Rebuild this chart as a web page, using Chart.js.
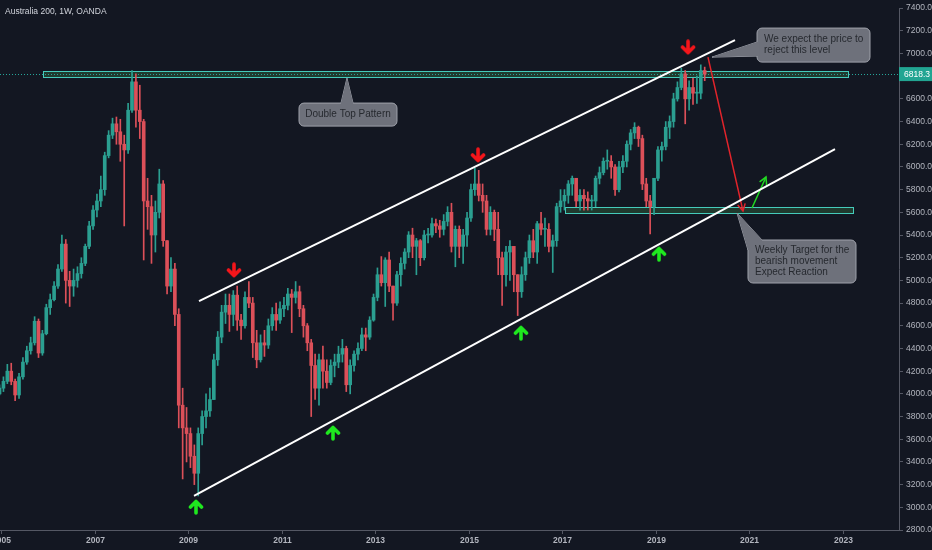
<!DOCTYPE html>
<html>
<head>
<meta charset="utf-8">
<script src="https://cdn.jsdelivr.net/npm/chart.js@4.4.1/dist/chart.umd.min.js"></script>
<style>
  html, body { margin: 0; padding: 0; background: #131722; }
  #wrap { width: 932px; height: 550px; }
</style>
</head>
<body>
<div id="wrap"><canvas id="chart" width="932" height="550"></canvas></div>
<script>
// Monthly candles, Dec 2004 .. Jan 2020 (open = previous close)
const firstMonth = { year: 2004, month: 12 };
const firstOpen = 4000;

const closes = [
    4050,
    4110, 4200, 4110, 3990, 4150, 4280, 4380, 4450, 4640, 4360, 4530, 4760, // 2005
    4830, 4950, 5100, 5320, 5000, 4950, 5000, 5060, 5150, 5300, 5480, 5620, // 2006
    5700, 5800, 6100, 6280, 6380, 6310, 6200, 6150, 6500, 6750, 6500, 6400, // 2007
    5700, 5650, 5400, 5600, 5850, 5350, 4950, 5100, 4700, 3900, 3700, 3650, // 2008
    3450, 3300, 3650, 3800, 3850, 3950, 4300, 4500, 4720, 4780, 4700, 4870, // 2009
    4650, 4600, 4850, 4800, 4450, 4300, 4450, 4430, 4600, 4700, 4650, 4750, // 2010
    4780, 4880, 4850, 4900, 4750, 4600, 4450, 4250, 4050, 4300, 4200, 4100, // 2011
    4250, 4280, 4350, 4400, 4080, 4250, 4350, 4400, 4520, 4500, 4650, 4850, // 2012
    5050, 4980, 5180, 4950, 4800, 5050, 5150, 5250, 5400, 5300, 5350, 5200, // 2013
    5400, 5400, 5500, 5480, 5450, 5520, 5600, 5300, 5450, 5300, 5400, 5550, // 2014
    5800, 5850, 5750, 5700, 5450, 5600, 5450, 5200, 5050, 5250, 5300, 5050, // 2015
    4900, 5050, 5200, 5350, 5250, 5500, 5450, 5450, 5300, 5350, 5650, 5700, // 2016
    5750, 5850, 5900, 5700, 5750, 5720, 5700, 5700, 5900, 5950, 6050, 6050, // 2017
    6000, 5800, 6000, 6050, 6200, 6300, 6350, 6250, 5850, 5700, 5650, 5900, // 2018
    6150, 6180, 6350, 6400, 6600, 6700, 6820, 6600, 6700, 6650, 6650, 6850, // 2019
    6818.3
];

const highs = [
    4080,
    4150, 4260, 4270, 4130, 4180, 4320, 4420, 4500, 4680, 4660, 4560, 4790,
    4880, 4990, 5140, 5400, 5360, 5080, 5100, 5120, 5200, 5320, 5520, 5660,
    5760, 5920, 6130, 6320, 6430, 6440, 6420, 6280, 6560, 6850, 6820, 6720,
    6420, 5900, 5750, 5700, 5980, 5880, 5350, 5200, 5150, 4750, 4050, 3880,
    3700, 3550, 3700, 3850, 4000, 4050, 4350, 4550, 4780, 4880, 4880, 4910,
    4950, 4700, 4900, 4990, 4850, 4560, 4520, 4560, 4660, 4760, 4800, 4810,
    4850, 4930, 4920, 4990, 4950, 4780, 4620, 4480, 4350, 4350, 4420, 4300,
    4300, 4350, 4420, 4480, 4420, 4300, 4380, 4450, 4580, 4580, 4680, 4880,
    5110, 5210, 5200, 5250, 4950, 5080, 5200, 5280, 5430, 5460, 5370, 5360,
    5440, 5460, 5550, 5540, 5530, 5580, 5650, 5680, 5480, 5480, 5450, 5600,
    5850, 5990, 5970, 5850, 5750, 5650, 5620, 5600, 5250, 5300, 5350, 5300,
    5050, 5120, 5250, 5400, 5450, 5520, 5600, 5550, 5500, 5400, 5680, 5800,
    5800, 5880, 5920, 5900, 5800, 5800, 5780, 5750, 5920, 6000, 6080, 6150,
    6100, 6020, 6050, 6100, 6230, 6330, 6390, 6360, 6280, 5900, 5750, 5900,
    6180, 6220, 6400, 6450, 6650, 6750, 6870, 6850, 6760, 6780, 6800, 6900,
    6880
];

const lows = [
    3990,
    4020, 4090, 4080, 3940, 3960, 4130, 4260, 4350, 4430, 4320, 4340, 4520,
    4700, 4820, 4930, 5080, 4800, 4770, 4860, 4940, 5020, 5130, 5280, 5450,
    5560, 5650, 5750, 6080, 6250, 6200, 6050, 5480, 6120, 6480, 6350, 6250,
    5180, 5450, 5150, 5250, 5550, 5300, 4880, 4900, 4600, 3700, 3250, 3400,
    3350, 3200, 3100, 3550, 3700, 3800, 3950, 4250, 4450, 4620, 4550, 4600,
    4560, 4480, 4580, 4760, 4320, 4230, 4280, 4330, 4400, 4560, 4560, 4620,
    4680, 4740, 4540, 4800, 4680, 4500, 4380, 3800, 3950, 3900, 4050, 4050,
    4080, 4150, 4230, 4280, 4020, 4000, 4200, 4300, 4380, 4380, 4480, 4640,
    4820, 4950, 4770, 4900, 4650, 4780, 4950, 5100, 5200, 5200, 5050, 5130,
    5180, 5330, 5380, 5420, 5380, 5400, 5480, 5250, 5120, 5200, 5150, 5300,
    5520, 5750, 5700, 5600, 5400, 5400, 5350, 5050, 4780, 4950, 5000, 4900,
    4690, 4850, 5000, 5150, 5200, 5150, 5400, 5300, 5250, 5070, 5300, 5600,
    5620, 5680, 5750, 5650, 5620, 5620, 5620, 5620, 5650, 5850, 5930, 5980,
    5900, 5750, 5780, 5950, 6000, 6150, 6250, 6180, 5800, 5650, 5410, 5580,
    5880, 6050, 6150, 6250, 6350, 6580, 6680, 6380, 6500, 6550, 6560, 6600,
    6760
];

const yearTicks = [2005, 2007, 2009, 2011, 2013, 2015, 2017, 2019, 2021, 2023];
const priceTicks = [2800, 3000, 3200, 3400, 3600, 3800, 4000, 4200, 4400, 4600, 4800,
    5000, 5200, 5400, 5600, 5800, 6000, 6200, 6400, 6600, 7000, 7200, 7400];
const lastPrice = 6818.3;

// drawings (decimal year, price)
const upperChannel = [[2009.225, 4818], [2020.690, 7118]];
const lowerChannel = [[2009.118, 3100], [2022.829, 6158]];
const bearishPath = [[2020.112, 6968], [2020.861, 5611]];
const reactionPath = [[2021.053, 5638], [2021.353, 5911]];
const sellSignals = [[2009.973, 5091], [2015.193, 6105], [2019.685, 7056]];
const buySignals = [[2009.160, 3003], [2012.091, 3655], [2016.112, 4536], [2019.064, 5232]];
const doubleTopZone = { from: 2005.888, to: 2023.107, top: 6845, bottom: 6792 };
const targetZone = { from: 2017.053, to: 2023.214, top: 5646, bottom: 5594 };

const callouts = [
    { lines: ['Double Top Pattern'], box: [2011.364, 2013.460, 6563, 6360], tip: [2012.390, 6783],
      align: 'center', base: 'top', baseFrom: 42, baseTo: 54 },
    { lines: ['We expect the price to', 'reject this level'], box: [2021.161, 2023.578, 7224, 6924],
      tip: [2020.198, 6968], align: 'left', base: 'left', baseFrom: 14, baseTo: 28 },
    { lines: ['Weekly Target for the', 'bearish movement', 'Expect Reaction'],
      box: [2020.968, 2023.278, 5356, 4977], tip: [2020.733, 5594], align: 'left', base: 'corner' }
];

const months = closes.map((c, i) => firstMonth.year + (firstMonth.month - 1 + i + 0.5) / 12);
const opens = closes.map((c, i) => i === 0 ? firstOpen : closes[i - 1]);

const upColor = '#2b9f91';
const downColor = '#dc5059';
const candleColors = closes.map((c, i) => c >= opens[i] ? upColor : downColor);

function arrowIcon(color, down) {
    const c = document.createElement('canvas');
    c.width = 16; c.height = 16;
    const g = c.getContext('2d');
    g.strokeStyle = color;
    g.lineWidth = 3.6;
    g.lineCap = 'round';
    g.lineJoin = 'round';
    g.beginPath();
    if (down) {
        g.moveTo(8, 2); g.lineTo(8, 13.5);
        g.moveTo(2.5, 8); g.lineTo(8, 13.5); g.lineTo(13.5, 8);
    } else {
        g.moveTo(8, 14); g.lineTo(8, 2.5);
        g.moveTo(2.5, 8); g.lineTo(8, 2.5); g.lineTo(13.5, 8);
    }
    g.stroke();
    return c;
}

const toPoints = arr => arr.map(p => ({ x: p[0], y: p[1] }));

function roundRect(ctx, x, y, w, h, r) {
    ctx.beginPath();
    ctx.moveTo(x + r, y);
    ctx.lineTo(x + w - r, y);
    ctx.arcTo(x + w, y, x + w, y + r, r);
    ctx.lineTo(x + w, y + h - r);
    ctx.arcTo(x + w, y + h, x + w - r, y + h, r);
    ctx.lineTo(x + r, y + h);
    ctx.arcTo(x, y + h, x, y + h - r, r);
    ctx.lineTo(x, y + r);
    ctx.arcTo(x, y, x + r, y, r);
    ctx.closePath();
}

function arrowHead(ctx, from, to, color) {
    const ang = Math.atan2(to.y - from.y, to.x - from.x);
    const len = 8;
    ctx.strokeStyle = color;
    ctx.lineWidth = 1.5;
    ctx.beginPath();
    ctx.moveTo(to.x - len * Math.cos(ang - 0.5), to.y - len * Math.sin(ang - 0.5));
    ctx.lineTo(to.x, to.y);
    ctx.lineTo(to.x - len * Math.cos(ang + 0.5), to.y - len * Math.sin(ang + 0.5));
    ctx.stroke();
}

const axisColor = '#555864';
const labelFont = '"Liberation Sans", Arial, sans-serif';

const overlay = {
    id: 'overlay',
    beforeDatasetsDraw(chart) {
        const { ctx, chartArea: a, scales: { x, y } } = chart;
        ctx.save();
        ctx.beginPath();
        ctx.rect(a.left, a.top, a.width, a.height);
        ctx.clip();
        [doubleTopZone, targetZone].forEach(z => {
            const x0 = x.getPixelForValue(z.from), x1 = x.getPixelForValue(z.to);
            const y0 = y.getPixelForValue(z.top), y1 = y.getPixelForValue(z.bottom);
            ctx.fillStyle = 'rgba(70,150,80,0.28)';
            ctx.fillRect(x0, y0, x1 - x0, y1 - y0);
            ctx.strokeStyle = '#45cbbb';
            ctx.lineWidth = 1;
            ctx.strokeRect(Math.round(x0) + 0.5, Math.round(y0) + 0.5, Math.round(x1 - x0), Math.round(y1 - y0));
        });
        const py = Math.round(y.getPixelForValue(lastPrice)) + 0.5;
        ctx.strokeStyle = '#26a69a';
        ctx.setLineDash([1, 2]);
        ctx.beginPath();
        ctx.moveTo(0, py);
        ctx.lineTo(a.right, py);
        ctx.stroke();
        ctx.restore();
    },
    afterDatasetsDraw(chart) {
        const { ctx, scales: { x, y } } = chart;
        ctx.save();
        const px = p => ({ x: x.getPixelForValue(p[0]), y: y.getPixelForValue(p[1]) });
        arrowHead(ctx, px(bearishPath[0]), px(bearishPath[1]), '#e3242b');
        arrowHead(ctx, px(reactionPath[0]), px(reactionPath[1]), '#22d822');

        callouts.forEach(c => {
            const bx0 = x.getPixelForValue(c.box[0]), bx1 = x.getPixelForValue(c.box[1]);
            const by0 = y.getPixelForValue(c.box[2]), by1 = y.getPixelForValue(c.box[3]);
            const tip = px(c.tip);
            let b1, b2, i1, i2;
            if (c.base === 'top') {
                b1 = { x: bx0 + c.baseFrom, y: by0 }; b2 = { x: bx0 + c.baseTo, y: by0 };
                i1 = { x: b1.x, y: by0 + 2 }; i2 = { x: b2.x, y: by0 + 2 };
            } else if (c.base === 'left') {
                b1 = { x: bx0, y: by0 + c.baseFrom }; b2 = { x: bx0, y: by0 + c.baseTo };
                i1 = { x: bx0 + 2, y: b1.y }; i2 = { x: bx0 + 2, y: b2.y };
            } else {
                b1 = { x: bx0, y: by0 + 10 }; b2 = { x: bx0 + 14, y: by0 };
                i1 = { x: bx0 + 3, y: by0 + 10 }; i2 = { x: bx0 + 14, y: by0 + 3 };
            }
            ctx.strokeStyle = '#9fa2ab';
            ctx.lineWidth = 1;
            ctx.fillStyle = '#6e717b';
            ctx.beginPath();
            ctx.moveTo(b1.x, b1.y); ctx.lineTo(tip.x, tip.y); ctx.lineTo(b2.x, b2.y);
            ctx.stroke();
            roundRect(ctx, bx0, by0, bx1 - bx0, by1 - by0, 5);
            ctx.fill();
            ctx.stroke();
            ctx.beginPath();
            ctx.moveTo(i1.x, i1.y); ctx.lineTo(b1.x, b1.y); ctx.lineTo(tip.x, tip.y);
            ctx.lineTo(b2.x, b2.y); ctx.lineTo(i2.x, i2.y);
            ctx.closePath();
            ctx.fill();

            ctx.fillStyle = '#26292f';
            ctx.font = '10px ' + labelFont;
            ctx.textBaseline = 'middle';
            const lh = 11;
            const h = by1 - by0;
            const startY = by0 + h / 2 - (c.lines.length - 1) * lh / 2;
            c.lines.forEach((t, k) => {
                if (c.align === 'center') {
                    ctx.textAlign = 'center';
                    ctx.fillText(t, (bx0 + bx1) / 2, startY + k * lh);
                } else {
                    ctx.textAlign = 'left';
                    ctx.fillText(t, bx0 + 7, startY + k * lh);
                }
            });
        });
        ctx.restore();
    },
    afterDraw(chart) {
        const { ctx, chartArea: a, scales: { x, y } } = chart;
        ctx.save();
        // last price tag on the price axis
        const py = y.getPixelForValue(lastPrice);
        ctx.fillStyle = '#22a592';
        ctx.fillRect(a.right, py - 7, 33, 14);
        ctx.fillStyle = '#ffffff';
        ctx.font = '8.5px ' + labelFont;
        ctx.textBaseline = 'middle';
        ctx.textAlign = 'left';
        ctx.fillText(lastPrice.toFixed(1), a.right + 5, py + 0.5);

        // time axis labels (drawn here so the left one can run off the edge)
        ctx.strokeStyle = axisColor;
        ctx.lineWidth = 1;
        ctx.fillStyle = '#b2b5be';
        ctx.font = 'bold 8.5px ' + labelFont;
        ctx.textAlign = 'center';
        ctx.textBaseline = 'top';
        yearTicks.forEach(yr => {
            const tx = Math.round(x.getPixelForValue(yr)) + 0.5;
            ctx.beginPath();
            ctx.moveTo(tx, a.bottom);
            ctx.lineTo(tx, a.bottom + 4);
            ctx.stroke();
            ctx.fillText(String(yr), tx, a.bottom + 6);
        });

        ctx.fillStyle = '#d1d4dc';
        ctx.font = '8.5px ' + labelFont;
        ctx.textAlign = 'left';
        ctx.textBaseline = 'middle';
        ctx.fillText('Australia 200, 1W, OANDA', 5, 12);
        ctx.restore();
    }
};

const tickFont = { family: labelFont, size: 8.5 };

new Chart(document.getElementById('chart').getContext('2d'), {
    type: 'bar',
    data: {
        datasets: [
            {
                label: 'wick',
                data: months.map((t, i) => ({ x: t, y: [lows[i], highs[i]] })),
                backgroundColor: candleColors,
                barThickness: 1,
                grouped: false,
                order: 3
            },
            {
                label: 'body',
                data: months.map((t, i) => ({ x: t, y: [opens[i], closes[i]] })),
                backgroundColor: candleColors,
                barThickness: 3,
                minBarLength: 1,
                grouped: false,
                order: 2
            },
            {
                type: 'line', label: 'upper', data: toPoints(upperChannel),
                borderColor: '#ffffff', borderWidth: 2, pointRadius: 0, order: 1
            },
            {
                type: 'line', label: 'lower', data: toPoints(lowerChannel),
                borderColor: '#ffffff', borderWidth: 2, pointRadius: 0, order: 1
            },
            {
                type: 'line', label: 'bearish', data: toPoints(bearishPath),
                borderColor: '#e3242b', borderWidth: 1.5, pointRadius: 0, order: 1
            },
            {
                type: 'line', label: 'reaction', data: toPoints(reactionPath),
                borderColor: '#22d822', borderWidth: 1.5, pointRadius: 0, order: 1
            },
            {
                type: 'line', label: 'sell', data: toPoints(sellSignals), showLine: false,
                pointStyle: arrowIcon('#f5161b', true), pointRadius: 8, order: 0
            },
            {
                type: 'line', label: 'buy', data: toPoints(buySignals), showLine: false,
                pointStyle: arrowIcon('#1fe81f', false), pointRadius: 8, order: 0
            }
        ]
    },
    options: {
        responsive: false,
        animation: false,
        layout: { padding: 0, autoPadding: false },
        plugins: {
            legend: { display: false },
            tooltip: { enabled: false },
            title: { display: false }
        },
        scales: {
            x: {
                type: 'linear',
                min: 2004.968,
                max: 2024.198,
                offset: false,
                grid: { drawOnChartArea: false, drawTicks: false, offset: false, color: axisColor },
                border: { color: axisColor },
                ticks: { display: false },
                afterBuildTicks: s => { s.ticks = yearTicks.map(v => ({ value: v })); },
                afterFit: s => { s.height = 20; }
            },
            y: {
                type: 'linear',
                position: 'right',
                min: 2800,
                max: 7400,
                grid: { drawOnChartArea: false, tickLength: 4, color: axisColor },
                border: { color: axisColor },
                ticks: {
                    color: '#b2b5be',
                    font: tickFont,
                    padding: 3,
                    callback: v => Number(v).toFixed(1)
                },
                afterBuildTicks: s => { s.ticks = priceTicks.map(v => ({ value: v })); },
                afterFit: s => { s.width = 33; }
            }
        }
    },
    plugins: [overlay]
});
</script>
</body>
</html>
